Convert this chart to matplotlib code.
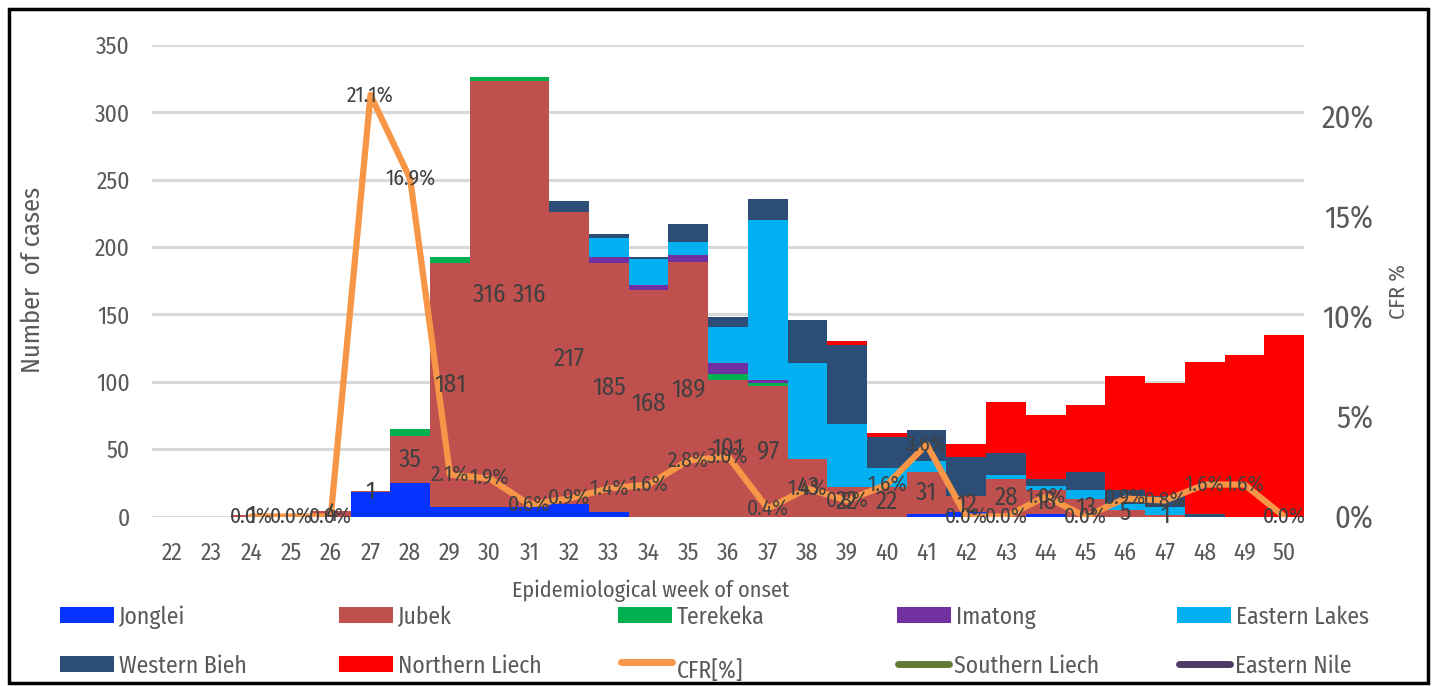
import matplotlib
matplotlib.use('Agg')
import matplotlib.pyplot as plt
from matplotlib.patches import Rectangle
from matplotlib.lines import Line2D
import numpy as np

COND = ['Fira Sans Condensed', 'Liberation Sans', 'DejaVu Sans']
plt.rcParams['font.family'] = COND

weeks = list(range(22, 51))
#          22 23 24 25 26 27  28   29   30   31   32   33   34   35   36   37   38  39  40  41  42  43  44  45  46  47  48   49   50
jonglei = [0, 0, 0, 0, 0, 18, 25,   7,   7,   7,   9,   3,   0,   0,   0,   0,   0,  0,  0,  2,  3,  0,  2,  0,  0,  0,  0,   0,   0]
jubek   = [0, 0, 1, 0, 4,  1, 35, 181, 316, 316, 217, 185, 168, 189, 101,  97,  43, 22, 22, 31, 12, 28, 18, 13,  5,  1,  0,   0,   0]
terekeka= [0, 0, 0, 0, 0,  0,  5,   5,   3,   3,   0,   0,   0,   0,   5,   2,   0,  0,  0,  0,  0,  0,  0,  0,  0,  0,  0,   0,   0]
imatong = [0, 0, 0, 0, 0,  0,  0,   0,   0,   0,   0,   5,   4,   5,   8,   2,   0,  0,  0,  0,  0,  0,  0,  0,  0,  0,  0,   0,   0]
e_lakes = [0, 0, 0, 0, 0,  0,  0,   0,   0,   0,   0,  14,  19,  10,  27, 119,  71, 47, 14,  8,  0,  3,  3,  7,  4,  6,  0,   0,   0]
w_bieh  = [0, 0, 0, 0, 0,  0,  0,   0,   0,   0,   8,   3,   2,  13,   7,  16,  32, 58, 23, 23, 29, 16,  5, 13, 11,  8,  2,   0,   0]
n_liech = [0, 0, 0, 0, 0,  0,  0,   0,   0,   0,   0,   0,   0,   0,   0,   0,   0,  3,  3,  0, 10, 38, 47, 50, 84, 84, 113, 120, 135]
s_liech = []
e_nile  = []
cfr     = [np.nan, np.nan, 0.0, 0.0, 0.0, 21.1, 16.9, 2.1, 1.9, 0.6, 0.9, 1.4, 1.6, 2.8, 3.0, 0.4, 1.4, 0.8, 1.6, 3.6,
           0.0, 0.0, 1.0, 0.0, 0.9, 0.8, 1.6, 1.6, 0.0]

series = [
    ('Jonglei', jonglei, '#0433FF'),
    ('Jubek', jubek, '#C0504D'),
    ('Terekeka', terekeka, '#00B050'),
    ('Imatong', imatong, '#7030A0'),
    ('Eastern Lakes', e_lakes, '#00B0F0'),
    ('Western Bieh', w_bieh, '#2C4D75'),
    ('Northern Liech', n_liech, '#FF0000'),
]
CFR_COLOR = '#F79646'
SL_COLOR = '#647A34'
EN_COLOR = '#4E3B65'
TXT = '#404040'
TICK = '#595959'

W, H = 1434, 686
fig = plt.figure(figsize=(W / 100, H / 100), dpi=100)
fig.patch.set_facecolor('white')

x0, x1 = 152, 1304
y_top, y_base = 45, 516.5
ax = fig.add_axes([x0 / W, (H - y_base) / H, (x1 - x0) / W, (y_base - y_top) / H])
ax.set_xlim(21.5, 50.5)
ax.set_ylim(0, 350)
ax.set_yticks(range(0, 351, 50))
ax.set_xticks(weeks)
ax.set_xticklabels([str(w) for w in weeks])
for s in ax.spines.values():
    s.set_visible(False)
ax.yaxis.grid(True, color='#D9D9D9', lw=2.2)
ax.set_axisbelow(True)
ax.tick_params(axis='both', length=0, labelsize=17, labelcolor=TICK)
ax.tick_params(axis='y', pad=16)
ax.tick_params(axis='x', pad=18)

bottom = np.zeros(len(weeks))
for name, vals, col in series:
    v = np.array(vals, dtype=float)
    ax.bar(weeks, v, width=1.0, bottom=bottom, color=col, linewidth=0, zorder=2)
    if name == 'Jubek':
        jub_bottom = bottom.copy()
    bottom = bottom + v

ax2 = ax.twinx()
ax2.set_ylim(0, (y_base - y_top) / 19.975)
ax2.set_yticks([0, 5, 10, 15, 20])
ax2.set_yticklabels([f'{t}%' for t in [0, 5, 10, 15, 20]])
for s in ax2.spines.values():
    s.set_visible(False)
ax2.tick_params(axis='y', length=0, labelsize=22, labelcolor=TICK, pad=50)
for lab in ax2.get_yticklabels():
    lab.set_horizontalalignment('right')

ax2.plot(weeks, cfr, color=CFR_COLOR, lw=4.5, solid_joinstyle='round', solid_capstyle='round', zorder=3)
ax2.plot(s_liech, s_liech, color=SL_COLOR, lw=4.5)
ax2.plot(e_nile, e_nile, color=EN_COLOR, lw=4.5)

for i, w in enumerate(weeks):
    if jubek[i] > 0:
        ax2.text(w, jub_bottom[i] + jubek[i] / 2, str(jubek[i]), transform=ax.transData,
                 ha='center', va='center', fontsize=18, color=TXT, zorder=5)
    if not np.isnan(cfr[i]):
        ax2.text(w, cfr[i], f'{cfr[i]:.1f}%', ha='center', va='center', fontsize=15.5,
                 color=TXT, zorder=5)

fig.text(33 / W, 1 - 280 / H, 'Number  of cases', rotation=90, ha='center', va='center',
         fontsize=19, color=TICK)
fig.text(1398 / W, 1 - 292 / H, 'CFR %', rotation=90, ha='center', va='center',
         fontsize=16, color=TICK)
fig.text(651 / W, 1 - 591 / H, 'Epidemiological week of onset', ha='center', va='center',
         fontsize=16, color=TICK)

# legend
legend_items = [
    ('Jonglei', 'patch', '#0433FF', 60, 615),
    ('Jubek', 'patch', '#C0504D', 339, 615),
    ('Terekeka', 'patch', '#00B050', 618, 615),
    ('Imatong', 'patch', '#7030A0', 897, 615),
    ('Eastern Lakes', 'patch', '#00B0F0', 1177, 615),
    ('Western Bieh', 'patch', '#2C4D75', 60, 664),
    ('Northern Liech', 'patch', '#FF0000', 339, 664),
    ('CFR[%]', 'line', CFR_COLOR, 618, 662),
    ('Southern Liech', 'line', SL_COLOR, 895, 664),
    ('Eastern Nile', 'line', EN_COLOR, 1176, 664),
]
for label, kind, col, px, py in legend_items:
    if kind == 'patch':
        fig.add_artist(Rectangle((px / W, 1 - (py + 8) / H), 54 / W, 16 / H,
                                 transform=fig.transFigure, color=col, lw=0))
    else:
        fig.add_artist(Line2D([(px + 3) / W, (px + 54) / W], [1 - py / H, 1 - py / H],
                              transform=fig.transFigure, color=col, lw=5, solid_capstyle='round'))
    ty = py + 9 if label == 'CFR[%]' else py + 2
    fig.text((px + 59) / W, 1 - ty / H, label, ha='left', va='center', fontsize=17, color=TICK)

fig.add_artist(Rectangle((9 / W, 3 / H), (1428 - 9) / W, (683 - 9) / H, transform=fig.transFigure,
                         fill=False, edgecolor='black', lw=2.5))

fig.savefig('out.png', dpi=100, facecolor='white')
